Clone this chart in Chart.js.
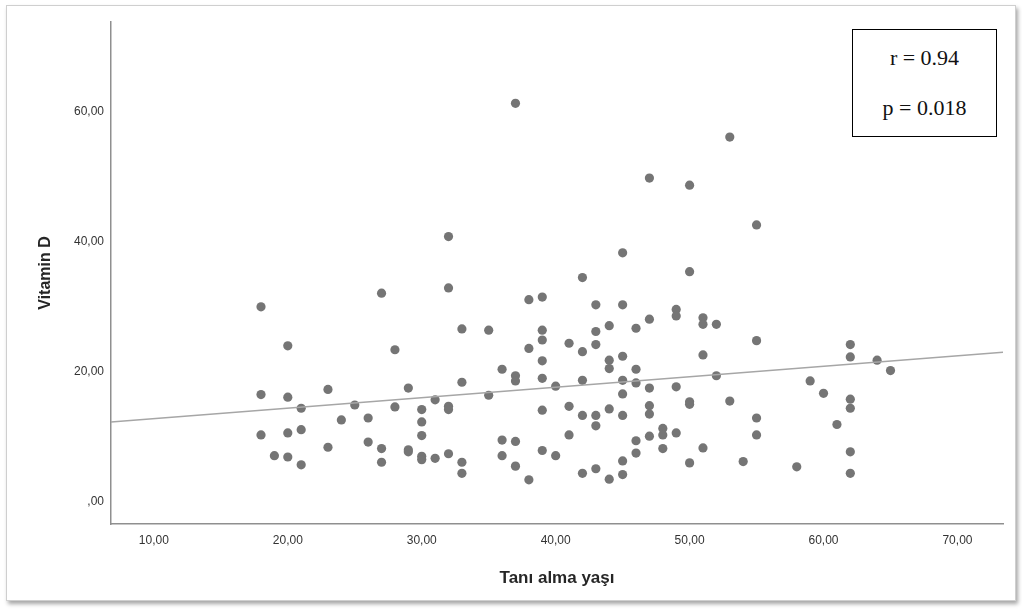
<!DOCTYPE html>
<html>
<head>
<meta charset="utf-8">
<script src="https://cdn.jsdelivr.net/npm/chart.js@4"></script>
<style>
  html, body { margin: 0; padding: 0; background: #ffffff; }
  #wrap { position: relative; width: 1022px; height: 610px; overflow: hidden; }
  #frame {
    position: absolute; left: 6px; top: 5px; width: 1008px; height: 594px;
    border: 1px solid #cfcfcf; box-shadow: 2px 3px 4px rgba(0, 0, 0, 0.35);
    background: #ffffff;
  }
  #chart { position: absolute; left: 0; top: 0; }
  #stats {
    position: absolute; left: 852px; top: 29px; width: 143px; height: 106px;
    border: 1.5px solid #000; background: #fff;
    font-family: "Liberation Serif", "Times New Roman", serif; font-size: 22px; color: #111;
  }
  #stats div { position: absolute; left: 0; width: 100%; text-align: center; line-height: 24px; }
</style>
</head>
<body>
<div id="wrap">
  <div id="frame"></div>
  <canvas id="chart" width="1022" height="610"></canvas>
  <div id="stats">
    <div style="top: 16px;">r = 0.94</div>
    <div style="top: 66px;">p = 0.018</div>
  </div>
</div>
<script>
// Tanı alma yaşı (x) and Vitamin D (y)
const ages = [
  18, 18, 18,
  19,
  20, 20, 20, 20,
  21, 21, 21,
  23, 23,
  24,
  25,
  26, 26,
  27, 27, 27,
  28, 28,
  29, 29, 29,
  30, 30, 30, 30, 30,
  31, 31,
  32, 32, 32, 32, 32,
  33, 33, 33, 33,
  35, 35,
  36, 36, 36,
  37, 37, 37, 37, 37,
  38, 38, 38,
  39, 39, 39, 39, 39, 39, 39,
  40, 40,
  41, 41, 41,
  42, 42, 42, 42, 42,
  43, 43, 43, 43, 43, 43,
  44, 44, 44, 44, 44,
  45, 45, 45, 45, 45, 45, 45, 45,
  46, 46, 46, 46, 46,
  47, 47, 47, 47, 47, 47,
  48, 48, 48,
  49, 49, 49, 49,
  50, 50, 50, 50, 50,
  51, 51, 51, 51,
  52, 52,
  53, 53,
  54,
  55, 55, 55, 55,
  58,
  59,
  60,
  61,
  62, 62, 62, 62, 62, 62,
  64,
  65
];
const vitaminD = [
  30.0, 16.5, 10.3,
  7.1,
  24.0, 16.1, 10.6, 6.9,
  14.4, 11.1, 5.7,
  17.3, 8.4,
  12.6,
  14.9,
  12.9, 9.2,
  32.1, 8.2, 6.1,
  23.4, 14.6,
  17.5, 8.0, 7.7,
  14.2, 12.3, 10.2, 7.0, 6.5,
  15.7, 6.7,
  40.8, 32.9, 14.7, 14.2, 7.4,
  26.6, 18.4, 6.1, 4.4,
  26.4, 16.4,
  20.4, 9.5, 7.1,
  61.3, 19.4, 18.6, 9.3, 5.5,
  31.1, 23.6, 3.4,
  31.5, 26.4, 24.9, 21.7, 19.0, 14.1, 7.9,
  17.8, 7.1,
  24.4, 14.7, 10.3,
  34.5, 23.1, 18.7, 13.3, 4.4,
  30.3, 26.2, 24.2, 13.3, 11.7, 5.1,
  27.1, 21.8, 20.5, 14.3, 3.5,
  38.3, 30.3, 22.4, 18.7, 16.6, 13.3, 6.3, 4.2,
  26.7, 20.4, 18.3, 9.4, 7.5,
  49.8, 28.1, 17.5, 14.8, 13.5, 10.1,
  11.3, 10.3, 8.2,
  29.6, 28.6, 17.7, 10.6,
  48.7, 35.4, 15.4, 15.0, 6.0,
  28.3, 27.3, 22.6, 8.3,
  27.3, 19.4,
  56.1, 15.5,
  6.2,
  42.6, 24.8, 12.9, 10.3,
  5.4,
  18.6,
  16.7,
  11.9,
  24.2, 22.3, 15.8, 14.4, 7.7, 4.4,
  21.8,
  20.2
];

// fit line ends at the axis limits
const fitX = [6.8, 73.4];
const fitY = [12.3, 23.0];

const xTicks = [10, 20, 30, 40, 50, 60, 70];
const xTickLabels = ['10,00', '20,00', '30,00', '40,00', '50,00', '60,00', '70,00'];
const yTicks = [0, 20, 40, 60];
const yTickLabels = [',00', '20,00', '40,00', '60,00'];

const points = ages.map((a, i) => ({ x: a, y: vitaminD[i] }));
const fitLine = fitX.map((a, i) => ({ x: a, y: fitY[i] }));

const tickFont = { family: '"Liberation Sans", Arial, sans-serif', size: 12 };

new Chart(document.getElementById('chart'), {
  type: 'scatter',
  data: {
    datasets: [
      {
        type: 'line',
        label: 'Fit',
        data: fitLine,
        borderColor: '#a6a6a6',
        borderWidth: 1.5,
        pointRadius: 0,
        fill: false,
        order: 0
      },
      {
        label: 'Vitamin D',
        data: points,
        backgroundColor: '#757575',
        borderColor: '#757575',
        borderWidth: 0,
        pointRadius: 4.6,
        order: 1
      }
    ]
  },
  options: {
    responsive: false,
    animation: false,
    layout: { padding: { left: 0, right: 19, top: 22, bottom: 0 } },
    plugins: { legend: { display: false }, tooltip: { enabled: false } },
    scales: {
      x: {
        type: 'linear',
        min: 6.8,
        max: 73.4,
        grid: { display: false, drawTicks: false },
        border: { display: true, color: '#8f8f8f', width: 1.5 },
        afterBuildTicks: s => { s.ticks = xTicks.map(v => ({ value: v })); },
        afterFit: s => { s.height = 86; },
        ticks: {
          padding: 9,
          color: '#333333',
          font: tickFont,
          maxRotation: 0,
          callback: (v) => xTickLabels[xTicks.indexOf(v)]
        },
        title: {
          display: true,
          text: 'Tanı alma yaşı',
          color: '#262626',
          font: { family: '"Liberation Sans", Arial, sans-serif', size: 17, weight: 'bold' },
          padding: { top: 0, bottom: 21 }
        }
      },
      y: {
        type: 'linear',
        min: -3.4,
        max: 73.8,
        grid: { display: false, drawTicks: false },
        border: { display: true, color: '#8f8f8f', width: 1.5 },
        afterBuildTicks: s => { s.ticks = yTicks.map(v => ({ value: v })); },
        afterFit: s => { s.width = 111; },
        ticks: {
          padding: 7,
          color: '#333333',
          font: tickFont,
          callback: (v) => yTickLabels[yTicks.indexOf(v)]
        },
        title: {
          display: true,
          text: 'Vitamin D',
          color: '#262626',
          font: { family: '"Liberation Sans", Arial, sans-serif', size: 16, weight: 'bold' },
          padding: { top: 36, bottom: 0 }
        }
      }
    }
  }
});
</script>
</body>
</html>
